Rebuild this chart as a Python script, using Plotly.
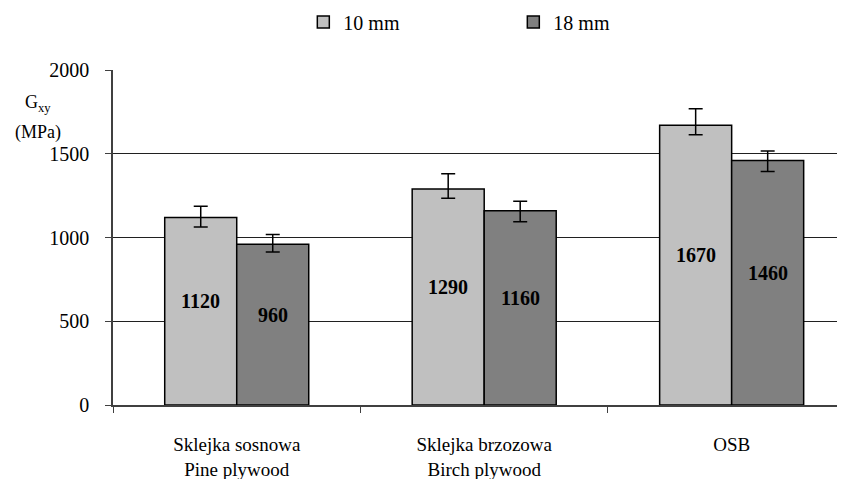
import plotly.graph_objects as go

categories = ["Sklejka sosnowa<br>Pine plywood", "Sklejka brzozowa<br>Birch plywood", "OSB"]
series_names = ["10 mm", "18 mm"]
values_10 = [1120, 1290, 1670]
values_18 = [960, 1160, 1460]
err_plus_10 = [66, 90, 99]
err_minus_10 = [58, 56, 56]
err_plus_18 = [58, 56, 56]
err_minus_18 = [46, 66, 66]
y_ticks = [0, 500, 1000, 1500, 2000]

colors = ["#C0C0C0", "#808080"]
FONT = "'Liberation Serif', 'Times New Roman', Times, serif"

fig = go.Figure()
for name, vals, ep, em, col in [
    (series_names[0], values_10, err_plus_10, err_minus_10, colors[0]),
    (series_names[1], values_18, err_plus_18, err_minus_18, colors[1]),
]:
    fig.add_trace(go.Bar(
        x=categories, y=vals, name=name,
        marker=dict(color=col, line=dict(color="black", width=1.5)),
        error_y=dict(type="data", array=ep, arrayminus=em, symmetric=False,
                     color="black", thickness=1.5, width=7),
    ))

# value labels inside bars
for vals, shift in [(values_10, -36), (values_18, 36)]:
    for c, v in zip(categories, vals):
        fig.add_annotation(x=c, y=v / 2, text=f"<b>{v}</b>", showarrow=False,
                           xshift=shift, yshift=10,
                           font=dict(family=FONT, size=20, color="black"))

# y-axis title
fig.add_annotation(xref="paper", yref="paper", x=-0.102, y=(335 - 33) / 335,
                   text="G<sub>xy</sub>", showarrow=False, xanchor="center", yanchor="middle",
                   font=dict(family=FONT, size=18, color="black"))
fig.add_annotation(xref="paper", yref="paper", x=-0.102, y=(335 - 62) / 335,
                   text="(MPa)", showarrow=False, xanchor="center", yanchor="middle",
                   font=dict(family=FONT, size=18, color="black"))

fig.update_layout(
    width=837, height=471,
    margin=dict(l=105, r=0, t=62, b=74, autoexpand=False),
    paper_bgcolor="white", plot_bgcolor="white",
    barmode="group", bargap=0.418, bargroupgap=0,
    font=dict(family=FONT, size=18, color="black"),
    showlegend=True,
    legend=dict(orientation="h", x=0.26, xanchor="left", y=(335 + 48) / 335, yanchor="middle",
                font=dict(family=FONT, size=20, color="black"),
                entrywidth=165, entrywidthmode="pixels", bgcolor="rgba(0,0,0,0)"),
    xaxis=dict(range=[-0.5, 2.458], showline=True, linecolor="#404040", linewidth=2,
               ticks="outside", tickson="boundaries", ticklen=6, tickcolor="#404040",
               tickwidth=1, showgrid=False, ticklabelstandoff=21, automargin=False,
               tickfont=dict(family=FONT, size=19, color="black")),
    yaxis=dict(range=[0, 2000], tickvals=y_ticks, showline=True, linecolor="#404040",
               linewidth=1.5, ticks="outside", ticklen=6, tickcolor="#404040",
               showgrid=True, gridcolor="#202020", gridwidth=1, zeroline=False,
               automargin=False, ticklabelstandoff=12,
               tickfont=dict(family=FONT, size=20, color="black")),
)

fig.write_html("out.html")
